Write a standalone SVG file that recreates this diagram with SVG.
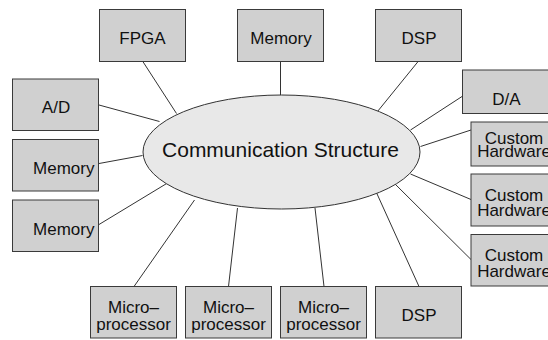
<svg xmlns="http://www.w3.org/2000/svg" width="548" height="340" viewBox="0 0 548 340">
<style>
.box{fill:#d0d0d0;stroke:#3a3a3a;stroke-width:1}
.t{font-family:"Liberation Sans",Arial,sans-serif;font-size:17px;fill:#111;text-anchor:middle}
.te{font-family:"Liberation Sans",Arial,sans-serif;font-size:17px;fill:#111;text-anchor:end}
.c line{stroke:#333;stroke-width:1}
</style>
<rect width="548" height="340" fill="#fff"/>
<g class="c" id="connectors">
<line x1="142.5" y1="61" x2="176.5" y2="113.5"/>
<line x1="280.5" y1="61" x2="280.5" y2="95"/>
<line x1="418.5" y1="61" x2="377.5" y2="111.5"/>
<line x1="99" y1="105" x2="159.5" y2="121.5"/>
<line x1="99" y1="163.5" x2="142.5" y2="155.5"/>
<line x1="99" y1="224.5" x2="167.5" y2="183"/>
<line x1="462" y1="96.5" x2="410.5" y2="130"/>
<line x1="471" y1="130" x2="420.5" y2="146.5"/>
<line x1="471" y1="199.5" x2="410.5" y2="174"/>
<line x1="471" y1="259.5" x2="393.5" y2="182.5"/>
<line x1="134" y1="286.5" x2="194.5" y2="200"/>
<line x1="228.5" y1="286.5" x2="237.5" y2="208"/>
<line x1="324" y1="286.5" x2="315" y2="208"/>
<line x1="419" y1="286.5" x2="375.5" y2="190.5"/>
</g>
<g id="center">
<ellipse cx="281.5" cy="152" rx="138.5" ry="57" fill="#e8e8e8" stroke="#333" stroke-width="1"/>
<text x="280.5" y="157" style="font-family:'Liberation Sans',Arial,sans-serif;font-size:21px;fill:#111;text-anchor:middle">Communication Structure</text>
</g>
<g id="fpga"><rect class="box" x="99.5" y="9.5" width="86" height="52"/><text class="t" x="142.5" y="44">FPGA</text></g>
<g id="memory-top"><rect class="box" x="237.5" y="9.5" width="86" height="52"/><text class="t" x="281" y="44">Memory</text></g>
<g id="dsp-top"><rect class="box" x="375.5" y="9.5" width="86" height="52"/><text class="t" x="419" y="44">DSP</text></g>
<g id="ad"><rect class="box" x="12.5" y="79" width="86" height="51.5"/><text class="t" x="56" y="113">A/D</text></g>
<g id="memory-left1"><rect class="box" x="12.5" y="139.5" width="86" height="51.5"/><text class="te" x="94.5" y="174">Memory</text></g>
<g id="memory-left2"><rect class="box" x="12.5" y="200" width="86" height="51.5"/><text class="te" x="94.5" y="235">Memory</text></g>
<g id="da"><rect class="box" x="462.5" y="70" width="90" height="43.5"/><text class="t" x="506.5" y="104.5">D/A</text></g>
<g id="custom1"><rect class="box" x="471" y="122" width="90" height="44"/><text class="t" x="514" y="144">Custom</text><text class="t" x="514" y="157">Hardware</text></g>
<g id="custom2"><rect class="box" x="471" y="174" width="90" height="52"/><text class="t" x="514" y="200.5">Custom</text><text class="t" x="514" y="216">Hardware</text></g>
<g id="custom3"><rect class="box" x="471" y="234.5" width="90" height="51.5"/><text class="t" x="514" y="260.5">Custom</text><text class="t" x="514" y="276.5">Hardware</text></g>
<g id="micro1"><rect class="box" x="90.5" y="286.5" width="86" height="51.5"/><text class="t" x="133.5" y="312.5">Micro–</text><text class="t" x="133.5" y="329.5">processor</text></g>
<g id="micro2"><rect class="box" x="185.5" y="286.5" width="86" height="51.5"/><text class="t" x="228.5" y="312.5">Micro–</text><text class="t" x="228.5" y="329.5">processor</text></g>
<g id="micro3"><rect class="box" x="280.5" y="286.5" width="86" height="51.5"/><text class="t" x="323.5" y="312.5">Micro–</text><text class="t" x="323.5" y="329.5">processor</text></g>
<g id="dsp-bottom"><rect class="box" x="375.5" y="286.5" width="86" height="51.5"/><text class="t" x="419" y="321">DSP</text></g>
</svg>
